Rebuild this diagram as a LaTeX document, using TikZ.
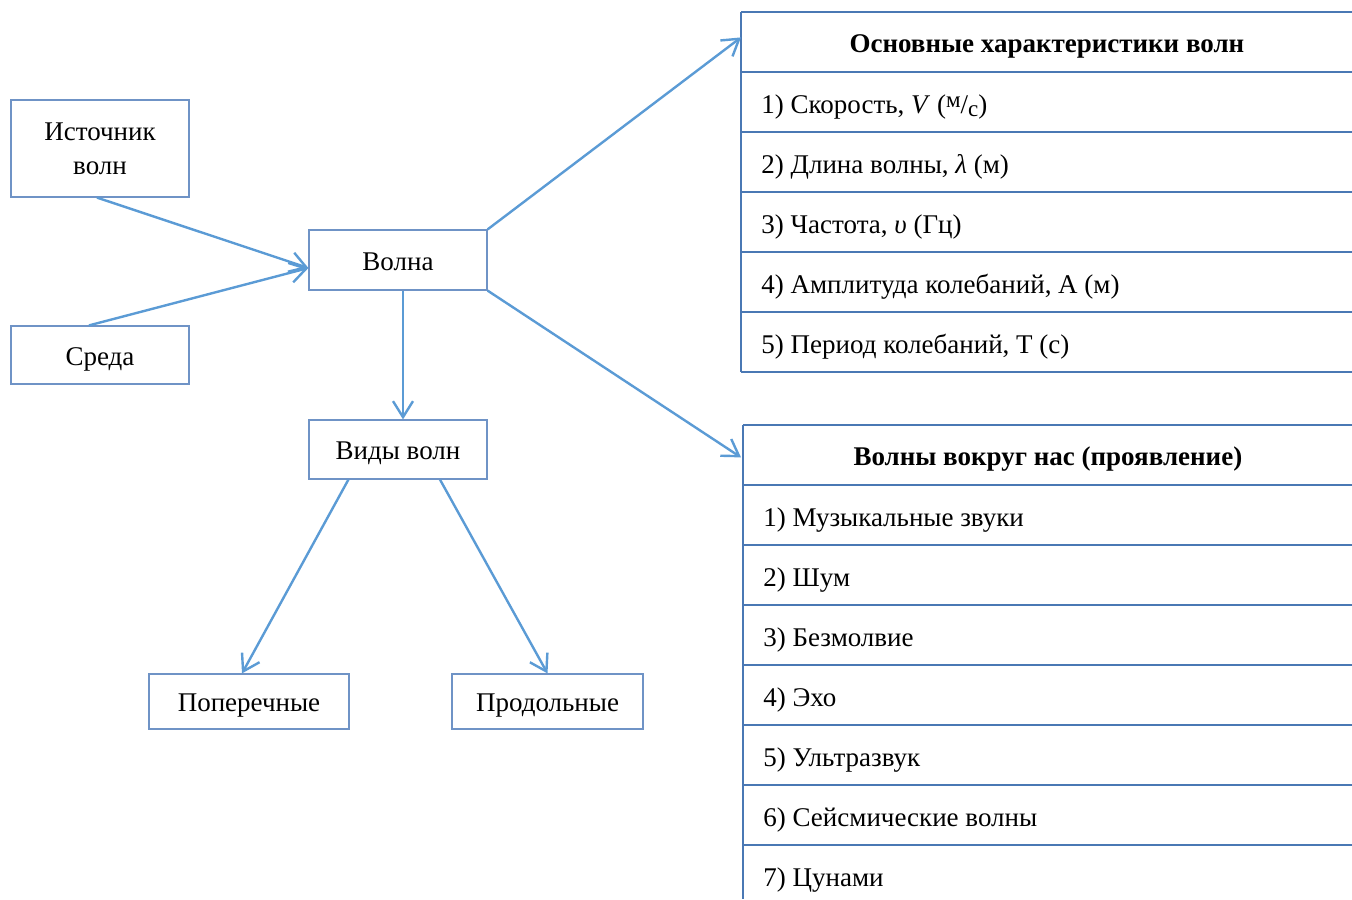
\documentclass[tikz,border=0pt]{standalone}
\usepackage{fontspec}
\setmainfont{Liberation Serif}
\usepackage{tikz}
\usetikzlibrary{arrows.meta}

\definecolor{boxline}{HTML}{6F93C6}
\definecolor{arrline}{HTML}{5B9BD5}
\definecolor{tabline}{HTML}{4A78B4}

\newcommand{\msup}[1]{{\fontsize{11.5}{11.5}\selectfont\raisebox{0.55ex}{#1}}}
\newcommand{\msub}[1]{{\fontsize{11.5}{11.5}\selectfont\raisebox{-0.35ex}{#1}}}

\tikzset{
  box/.style={draw=boxline, line width=0.6pt, inner sep=0pt, align=center, font=\fontsize{13.5}{16.5}\selectfont},
  oneline/.style={text height=10pt, text depth=0pt},
  arr/.style={draw=arrline, line width=1.2pt, -{Straight Barb[length=8pt,width=10pt,line width=1.2pt]}},
  row/.style={anchor=west, inner sep=0pt, text height=10pt, text depth=0pt, font=\fontsize{13.5}{16.5}\selectfont},
  head/.style={anchor=north west, inner sep=0pt, minimum height=30pt, text height=10pt, text depth=0pt, font=\bfseries\fontsize{13.5}{16.5}\selectfont}
}

\begin{document}
\begin{tikzpicture}[x=0.5pt, y=-0.5pt]
      \useasboundingbox (0,0) rectangle (1352,899);

      \node[box, minimum width=89pt, minimum height=48.5pt] (istochnik) at (100,148.5) {Источник\\[0.5pt]волн};
      \node[box, oneline, minimum width=89pt, minimum height=29pt] (sreda) at (100,355) {Среда};
      \node[box, oneline, minimum width=89pt, minimum height=30pt] (volna) at (398,260) {Волна};
      \node[box, oneline, minimum width=89pt, minimum height=29.5pt] (vidy) at (398,449.5) {Виды волн};
      \node[box, oneline, minimum width=100pt, minimum height=27.5pt] (poper) at (249,701.5) {Поперечные};
      \node[box, oneline, minimum width=95.5pt, minimum height=27.5pt] (prodol) at (547.5,701.5) {Продольные};

      % table of characteristics
      \draw[tabline, line width=0.6pt] (741,12) -- (741,372)
        (741,12) -- (1352,12) (741,72) -- (1352,72) (741,132) -- (1352,132)
        (741,192) -- (1352,192) (741,252) -- (1352,252) (741,312) -- (1352,312)
        (741,372) -- (1352,372);
      \node[head, minimum width=305.5pt] (harakt) at (741,12) {\hfill Основные характеристики волн\hfill};
      \node[row] (har1) at (761,103) {1) Скорость, \textit{V} (\msup{м}/\msub{с})};
      \node[row] (har2) at (761,163) {2) Длина волны, \textit{λ} (м)};
      \node[row] (har3) at (761,223) {3) Частота, \textit{υ} (Гц)};
      \node[row] (har4) at (761,283) {4) Амплитуда колебаний, А (м)};
      \node[row] (har5) at (761,343) {5) Период колебаний, Т (с)};

      % table of examples
      \draw[tabline, line width=0.6pt] (743,425) -- (743,899)
        (743,425) -- (1352,425) (743,485) -- (1352,485) (743,545) -- (1352,545)
        (743,605) -- (1352,605) (743,665) -- (1352,665) (743,725) -- (1352,725)
        (743,785) -- (1352,785) (743,845) -- (1352,845);
      \node[head, minimum width=304.5pt] (vokrug) at (743,425) {\hfill Волны вокруг нас (проявление)\hfill};
      \node[row] (vok1) at (763,516) {1) Музыкальные звуки};
      \node[row] (vok2) at (763,576) {2) Шум};
      \node[row] (vok3) at (763,636) {3) Безмолвие};
      \node[row] (vok4) at (763,696) {4) Эхо};
      \node[row] (vok5) at (763,756) {5) Ультразвук};
      \node[row] (vok6) at (763,816) {6) Сейсмические волны};
      \node[row] (vok7) at (763,876) {7) Цунами};

      \draw[arr] ([xshift=-1.5pt]istochnik.south) -- ([yshift=-4pt]volna.west);
      \draw[arr] ([xshift=-5.5pt]sreda.north) -- ([yshift=-4pt]volna.west);
      \draw[arr] ([xshift=2.5pt]volna.south) -- ([xshift=2.5pt]vidy.north);
      \draw[arr] ([xshift=20pt]vidy.south west) -- ([xshift=-3.5pt]poper.north);
      \draw[arr] ([xshift=21pt]vidy.south) -- (prodol.north);
      \draw[arr] (volna.north east) -- ([yshift=2.5pt]harakt.west);
      \draw[arr] (volna.south east) -- ([xshift=-1pt,yshift=-1pt]vokrug.west);
    \end{tikzpicture}
\end{document}
